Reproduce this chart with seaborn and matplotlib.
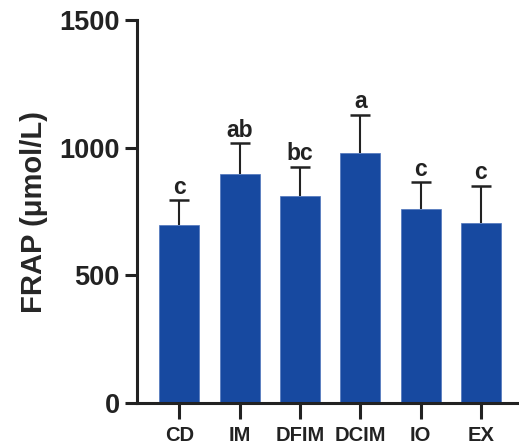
import matplotlib
matplotlib.use("Agg")
import matplotlib.pyplot as plt
import seaborn as sns
import pandas as pd
import numpy as np

groups = ["CD", "IM", "DFIM", "DCIM", "IO", "EX"]
means = [696, 896, 812, 978, 759, 704]
sds = [99, 121, 114, 151, 105, 147]
letters = ["c", "ab", "bc", "a", "c", "c"]
yticks = [0, 500, 1000, 1500]

sns.set_style("ticks")
plt.rcParams['font.family'] = ['Liberation Sans', 'DejaVu Sans']
plt.rcParams['font.weight'] = 'bold'

df = pd.DataFrame({"group": groups, "mean": means})

fig = plt.figure(figsize=(5.19, 4.48), dpi=100)
ax = fig.add_axes([0.264, 0.1004, 0.736, 0.8546])

sns.barplot(data=df, x="group", y="mean", color="#1749a0", saturation=1,
            width=0.66, edgecolor="#4f74bb", linewidth=0.5, ax=ax, zorder=2)

xs = np.arange(len(groups))
tops = np.array(means) + np.array(sds)
ax.vlines(xs, means, tops, colors="#222222", linewidth=1.5, zorder=1)
ax.hlines(tops, xs - 0.165, xs + 0.165, colors="#222222", linewidth=1.8, zorder=1)
for x, t, l in zip(xs, tops, letters):
    ax.annotate(l, (x, t), xytext=(0, 1), textcoords="offset points",
                ha="center", va="bottom", fontsize=16.5, fontweight="bold", color="#222222")

ax.set_xlim(-0.70, 5.63)
ax.set_ylim(0, 1500)
ax.set_yticks(yticks)
ax.set_yticklabels([str(t) for t in yticks], fontsize=19.5, fontweight="bold")
ax.set_xticks(xs)
ax.set_xticklabels(groups, fontsize=14.5, fontweight="bold")
ax.set_xlabel("")
ax.set_ylabel("FRAP (μmol/L)", fontsize=21, fontweight="bold", labelpad=8)

for sp in ["top", "right"]:
    ax.spines[sp].set_visible(False)
for sp in ["left", "bottom"]:
    ax.spines[sp].set_linewidth(2.2)
    ax.spines[sp].set_color("#222222")
ax.tick_params(axis="both", length=9, width=2.2, color="#222222", labelcolor="#222222")
ax.tick_params(axis="x", length=11.5, pad=5)

fig.savefig("out.png", dpi=100)
